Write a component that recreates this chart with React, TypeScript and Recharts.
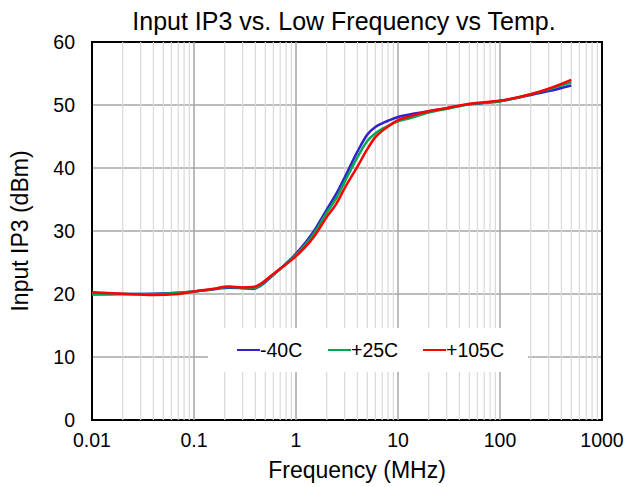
import React from 'react';
import { LineChart, Line, XAxis, YAxis, CartesianGrid, ReferenceLine, ReferenceArea } from 'recharts';

const freqMHz = [0.01, 0.02, 0.04, 0.07, 0.1, 0.15, 0.22, 0.3, 0.38, 0.45, 0.55, 0.7, 1, 1.5, 2, 2.5, 3, 4, 5, 6, 7, 8, 10, 13, 20, 30, 50, 100, 200, 300, 500];
const ip3Minus40 = [19.95, 20.0, 20.05, 20.2, 20.4, 20.7, 21.0, 20.9, 20.8, 21.3, 22.5, 24.0, 26.4, 30.0, 33.4, 36.0, 38.5, 42.6, 45.3, 46.5, 47.1, 47.5, 48.1, 48.5, 49.0, 49.5, 50.1, 50.6, 51.6, 52.2, 53.1];
const ip3Plus25 = [19.95, 20.0, 20.0, 20.2, 20.4, 20.75, 21.1, 21.0, 20.9, 21.4, 22.6, 24.0, 26.2, 29.6, 32.9, 35.3, 37.8, 41.7, 44.3, 45.5, 46.2, 46.7, 47.4, 47.9, 48.8, 49.4, 50.1, 50.6, 51.7, 52.5, 53.6];
const ip3Plus105 = [20.3, 20.05, 19.85, 20.0, 20.4, 20.8, 21.2, 21.05, 21.1, 21.6, 22.7, 24.0, 26.0, 29.1, 32.2, 34.4, 36.8, 40.2, 43.0, 44.9, 45.9, 46.6, 47.6, 48.2, 49.0, 49.5, 50.2, 50.7, 51.7, 52.6, 54.0];

const seriesNames = ['-40C', '+25C', '+105C'];
const seriesKeys = ['m40', 'p25', 'p105'];
const seriesColors = ['#3322CC', '#00A651', '#FF0000'];

const xTicks = [0.01, 0.1, 1, 10, 100, 1000];
const yTicks = [0, 10, 20, 30, 40, 50, 60];
const minorGrid = [
  0.02, 0.03, 0.04, 0.05, 0.06, 0.07, 0.08, 0.09,
  0.2, 0.3, 0.4, 0.5, 0.6, 0.7, 0.8, 0.9,
  2, 3, 4, 5, 6, 7, 8, 9,
  20, 30, 40, 50, 60, 70, 80, 90,
  200, 300, 400, 500, 600, 700, 800, 900,
];
const majorGrid = [0.1, 1, 10, 100];

const data = freqMHz.map((f, i) => ({
  f,
  m40: ip3Minus40[i],
  p25: ip3Plus25[i],
  p105: ip3Plus105[i],
}));

const FONT = '"Liberation Sans", Arial, sans-serif';

export default function App() {
  return (
    <div style={{ position: 'absolute', left: 0, top: 0, width: 629, height: 487, background: '#fff', fontFamily: FONT }}>
      <div style={{ position: 'absolute', left: 0, top: 6, width: 688, textAlign: 'center', fontSize: 25, color: '#000', lineHeight: '30px' }}>
        Input IP3 vs. Low Frequency vs Temp.
      </div>
      <LineChart width={629} height={487} data={data} margin={{ top: 42, right: 27, bottom: 0, left: 0 }}>
        <CartesianGrid vertical={false} stroke="#a6a6a6" strokeWidth={1.5} />
        {minorGrid.map((v) => (
          <ReferenceLine key={'mi' + v} x={v} stroke="#d9d9d9" strokeWidth={1.2} />
        ))}
        {majorGrid.map((v) => (
          <ReferenceLine key={'ma' + v} x={v} stroke="#a6a6a6" strokeWidth={1.5} />
        ))}
        <XAxis
          dataKey="f"
          type="number"
          scale="log"
          domain={[0.01, 1000]}
          ticks={xTicks}
          allowDataOverflow
          tickLine={false}
          axisLine={false}
          tickMargin={7}
          height={67}
          tick={{ fill: '#000', fontSize: 19.5, fontFamily: FONT }}
          tickFormatter={(v: number) => String(v)}
          label={{ value: 'Frequency (MHz)', position: 'insideBottom', offset: 9, dx: 10, fill: '#000', fontSize: 23, fontFamily: FONT }}
        />
        <YAxis
          type="number"
          domain={[0, 60]}
          ticks={yTicks}
          tickLine={false}
          axisLine={false}
          tickMargin={11}
          width={92}
          tick={{ fill: '#000', fontSize: 19.5, fontFamily: FONT }}
          label={{ value: 'Input IP3 (dBm)', angle: -90, position: 'insideLeft', offset: 20, style: { textAnchor: 'middle' }, fill: '#000', fontSize: 23, fontFamily: FONT }}
        />
        <ReferenceArea x1={0.01} x2={1000} y1={0} y2={60} fill="none" stroke="#000" strokeWidth={2} ifOverflow="visible" />
        {seriesKeys.map((k, i) => (
          <Line
            key={k}
            dataKey={k}
            name={seriesNames[i]}
            type="monotone"
            stroke={seriesColors[i]}
            strokeWidth={2.5}
            dot={false}
            isAnimationActive={false}
          />
        ))}
      </LineChart>
      <div
        style={{
          position: 'absolute',
          left: 208,
          top: 328,
          width: 320,
          height: 44,
          background: '#fff',
          fontSize: 19.5,
          color: '#000',
        }}
      >
        {seriesNames.map((n, i) => (
          <div key={n} style={{ position: 'absolute', left: [29, 120, 215][i], top: 0, height: 44, display: 'flex', alignItems: 'center' }}>
            <div style={{ width: 23, height: 2.5, background: seriesColors[i] }} />
            <span>{n}</span>
          </div>
        ))}
      </div>
    </div>
  );
}
